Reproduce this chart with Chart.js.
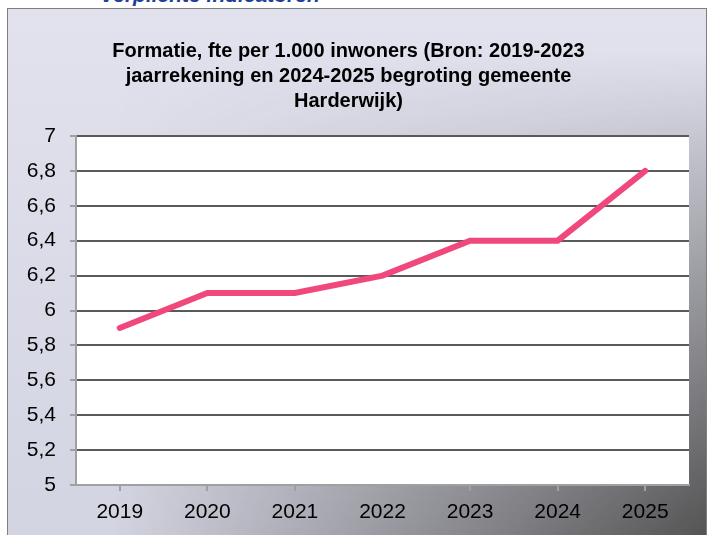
<!DOCTYPE html>
<html>
<head>
<meta charset="utf-8">
<script src="https://cdn.jsdelivr.net/npm/chart.js@4"></script>
<style>
  body { margin: 0; background: #fff; width: 709px; height: 535px; overflow: hidden; position: relative; font-family: "Liberation Sans", Arial, sans-serif; }
  #heading { position: absolute; left: 100px; top: -17px; font: italic bold 21px "Liberation Sans", Arial, sans-serif; color: #1f3e9c; white-space: nowrap; }
  #box { position: absolute; left: 7px; top: 8px; width: 698px; height: 540px; border: 1px solid #7f7f7f;
         background: linear-gradient(to bottom, #e1e2ee, #d3d4e1); overflow: hidden; }
  #shade { position: absolute; left: 0; top: 0; right: 0; bottom: 0;
           background: linear-gradient(to right, rgba(80,80,80,0) 15%, rgba(80,80,80,1) 100%);
           -webkit-mask-image: linear-gradient(to bottom, transparent 8%, black 100%);
           mask-image: linear-gradient(to bottom, transparent 8%, black 100%); }
  #wrap { position: absolute; left: 8px; top: 8px; width: 704px; height: 527px; }
</style>
</head>
<body>
<div id="heading">Verplichte indicatoren</div>
<div id="box"><div id="shade"></div></div>
<div id="wrap"><canvas id="chart"></canvas></div>
<script>
const years = ['2019', '2020', '2021', '2022', '2023', '2024', '2025'];
const fte = [5.9, 6.1, 6.1, 6.2, 6.4, 6.4, 6.8];
const titleLines = [
  'Formatie, fte per 1.000 inwoners (Bron: 2019-2023',
  'jaarrekening en 2024-2025 begroting gemeente',
  'Harderwijk)'
];

// witte achtergrond van het plotgebied
const plotBg = {
  id: 'plotBg',
  beforeDraw(chart) {
    const a = chart.chartArea;
    const ctx = chart.ctx;
    ctx.save();
    ctx.fillStyle = '#fff';
    ctx.fillRect(a.left, a.top, a.right - a.left, a.bottom - a.top);
    ctx.restore();
  }
};

const ctx = document.getElementById('chart');
new Chart(ctx, {
  type: 'line',
  data: {
    labels: years,
    datasets: [{
      data: fte,
      borderColor: '#f0487c',
      borderWidth: 6,
      borderCapStyle: 'round',
      pointRadius: 0,
      tension: 0
    }]
  },
  options: {
    responsive: true,
    maintainAspectRatio: false,
    animation: false,
    layout: { padding: { left: 0, right: 23, top: 0, bottom: 0 } },
    plugins: {
      legend: { display: false },
      tooltip: { enabled: false },
      title: {
        display: true,
        text: titleLines,
        color: '#000',
        font: { family: 'Liberation Sans', size: 20, weight: 'bold', lineHeight: 1.25 },
        padding: { top: 31, bottom: 22 }
      }
    },
    scales: {
      x: {
        offset: true,
        grid: { drawOnChartArea: false, drawTicks: true, tickLength: 6, color: '#a0a0a0', lineWidth: 2 },
        border: { color: '#a0a0a0', width: 2 },
        ticks: { color: '#000', padding: 9, font: { family: 'Liberation Sans', size: 21 }, maxRotation: 0 },
        afterFit(s) { s.height = 50; }
      },
      y: {
        min: 5,
        max: 7,
        grid: { color: '#5a5a5a', lineWidth: 2, tickLength: 6, tickColor: '#a0a0a0' },
        border: { color: '#a0a0a0', width: 2 },
        ticks: {
          stepSize: 0.2,
          color: '#000',
          padding: 14,
          font: { family: 'Liberation Sans', size: 21 },
          callback: v => (Math.round(v * 10) / 10).toString().replace('.', ',')
        },
        afterFit(s) { s.width = 68; }
      }
    }
  },
  plugins: [plotBg]
});
</script>
</body>
</html>
